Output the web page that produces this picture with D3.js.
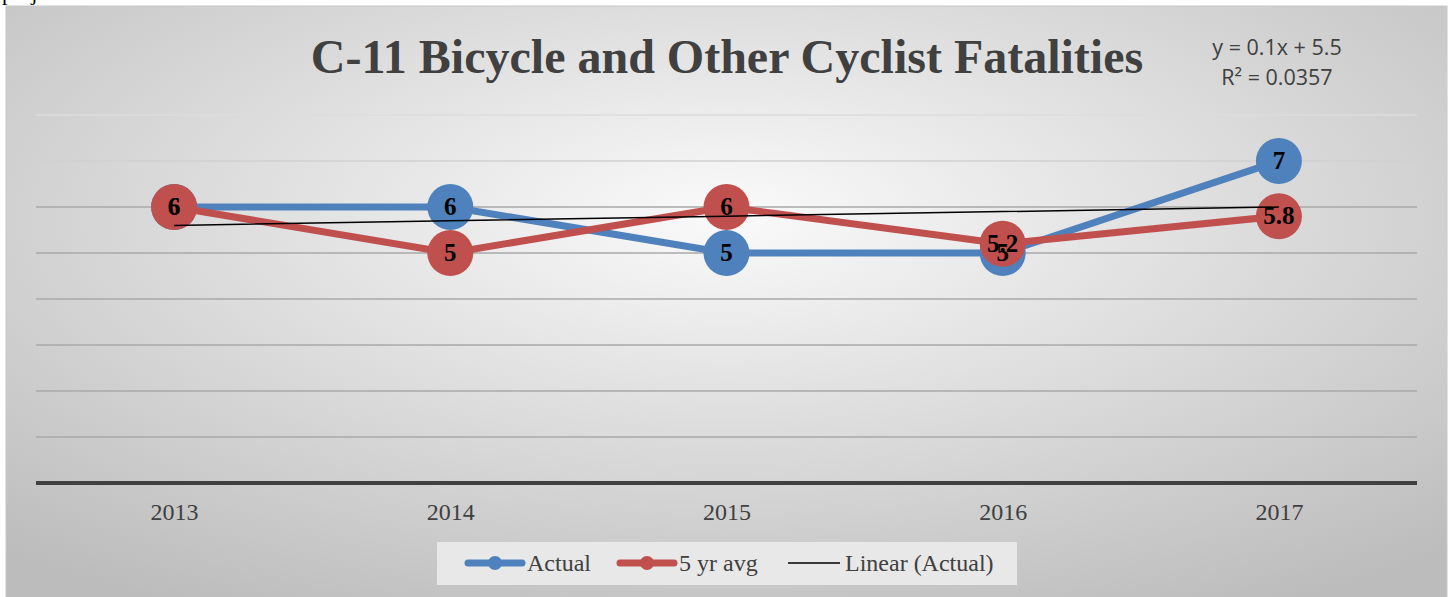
<!DOCTYPE html>
<html>
<head>
<meta charset="utf-8">
<script src="https://cdn.jsdelivr.net/npm/d3@7"></script>
<style>
  body { margin: 0; background: #fff; }
  svg { display: block; }
</style>
</head>
<body>
<div id="viz-container"></div>
<script>
// chart data
const years = ["2013", "2014", "2015", "2016", "2017"];
const actual = [6, 6, 5, 5, 7];
const avg5 = [6, 5, 6, 5.2, 5.8];
const avgLabels = ["6", "5", "6", "5.2", "5.8"];
const trendSlope = 0.1;
const trendIntercept = 5.5;
const yTicks = [0, 1, 2, 3, 4, 5, 6, 7, 8];

const drawChart = () => {
    const width = 1450;
    const height = 597;

    const svg = d3.select('#viz-container')
        .append("svg")
        .attr("width", width)
        .attr("height", height);

    const defs = svg.append("defs");
    const grad = defs.append("radialGradient")
        .attr("id", "bg")
        .attr("cx", "0.5").attr("cy", "0.35").attr("r", "0.75");
    grad.append("stop").attr("offset", "0").attr("stop-color", "#fafafa");
    grad.append("stop").attr("offset", "1").attr("stop-color", "#bcbcbc");

    // stray text cut off from the document above
    svg.append("text")
        .attr("x", 2).attr("y", 0)
        .attr("font-family", "Liberation Serif, serif")
        .attr("font-size", 22)
        .text("proj");

    // chart area
    svg.append("rect")
        .attr("x", 6).attr("y", 6)
        .attr("width", 1441).attr("height", 600)
        .attr("fill", "url(#bg)")
        .attr("stroke", "#c8c8c8")
        .attr("stroke-width", 1);

    const x = d3.scalePoint()
        .domain(years)
        .range([36, 1417])
        .padding(0.5);

    const y = d3.scaleLinear()
        .domain([0, 8])
        .range([483, 115]);

    // gridlines
    svg.append("g")
        .selectAll("line")
        .data(yTicks.filter(d => d > 0))
        .join("line")
        .attr("x1", 36).attr("x2", 1417)
        .attr("y1", d => y(d)).attr("y2", d => y(d))
        .attr("stroke", d => d === 8 ? "#dcdcdc" : (d === 7 ? "#d0d0d0" : "#a8a8a8"))
        .attr("stroke-width", 1.5);

    // x axis
    const xAxis = svg.append("g")
        .attr("transform", `translate(0,${y(0)})`)
        .call(d3.axisBottom(x).tickSize(0).tickPadding(20));
    xAxis.select(".domain")
        .attr("d", "M36,0H1417")
        .attr("stroke", "#404040")
        .attr("stroke-width", 4);
    xAxis.selectAll("text")
        .attr("font-family", "Liberation Serif, serif")
        .attr("font-size", 24)
        .attr("fill", "#404040");

    // title
    svg.append("text")
        .attr("x", 727).attr("y", 73)
        .attr("text-anchor", "middle")
        .attr("font-family", "Liberation Serif, serif")
        .attr("font-weight", "bold")
        .attr("font-size", 48)
        .attr("fill", "#404040")
        .text("C-11 Bicycle and Other Cyclist Fatalities");

    // trendline equation
    const eq = svg.append("text")
        .attr("text-anchor", "middle")
        .attr("font-family", "Open Sans, sans-serif")
        .attr("font-size", 21.5)
        .attr("fill", "#404040");
    eq.append("tspan").attr("x", 1277).attr("y", 55)
        .text(`y = ${trendSlope}x + ${trendIntercept}`);
    eq.append("tspan").attr("x", 1277).attr("y", 85)
        .text("R² = 0.0357");

    const line = d3.line()
        .x((d, i) => x(years[i]))
        .y(d => y(d));

    const series = [
        { name: "Actual", values: actual, labels: actual.map(String), color: "#4F81BD" },
        { name: "5 yr avg", values: avg5, labels: avgLabels, color: "#C0504D" }
    ];

    series.forEach(s => {
        const g = svg.append("g");
        g.append("path")
            .attr("d", line(s.values))
            .attr("fill", "none")
            .attr("stroke", s.color)
            .attr("stroke-width", 7)
            .attr("stroke-linejoin", "round");
        g.selectAll("circle")
            .data(s.values)
            .join("circle")
            .attr("cx", (d, i) => x(years[i]))
            .attr("cy", d => y(d))
            .attr("r", 23)
            .attr("fill", s.color);
    });

    // linear trend of Actual
    const trend = years.map((d, i) => trendSlope * (i + 1) + trendIntercept);
    svg.append("path")
        .attr("d", line(trend))
        .attr("fill", "none")
        .attr("stroke", "#000")
        .attr("stroke-width", 1.5);

    // data labels
    series.forEach(s => {
        svg.append("g")
            .selectAll("text")
            .data(s.values)
            .join("text")
            .attr("x", (d, i) => x(years[i]))
            .attr("y", d => y(d) + 8)
            .attr("text-anchor", "middle")
            .attr("font-family", "Liberation Serif, serif")
            .attr("font-weight", "bold")
            .attr("font-size", 25)
            .attr("fill", "#000")
            .text((d, i) => s.labels[i]);
    });

    // legend
    const legend = svg.append("g");
    legend.append("rect")
        .attr("x", 437).attr("y", 542)
        .attr("width", 580).attr("height", 43)
        .attr("fill", "#e8e8e8");

    const legendItems = [
        { name: "Actual", color: "#4F81BD", x0: 468, x1: 522, marker: true, w: 7 },
        { name: "5 yr avg", color: "#C0504D", x0: 620, x1: 674, marker: true, w: 7 },
        { name: "Linear (Actual)", color: "#000", x0: 788, x1: 840, marker: false, w: 1.5 }
    ];
    legendItems.forEach(d => {
        legend.append("line")
            .attr("x1", d.x0).attr("x2", d.x1)
            .attr("y1", 563).attr("y2", 563)
            .attr("stroke", d.color)
            .attr("stroke-width", d.w)
            .attr("stroke-linecap", d.marker ? "round" : "butt");
        if (d.marker) {
            legend.append("circle")
                .attr("cx", (d.x0 + d.x1) / 2).attr("cy", 563)
                .attr("r", 7).attr("fill", d.color);
        }
        legend.append("text")
            .attr("x", d.marker ? d.x1 + 5 : d.x1 + 5).attr("y", 571)
            .attr("font-family", "Liberation Serif, serif")
            .attr("font-size", 24)
            .attr("fill", "#404040")
            .text(d.name);
    });
};

drawChart();
</script>
</body>
</html>
